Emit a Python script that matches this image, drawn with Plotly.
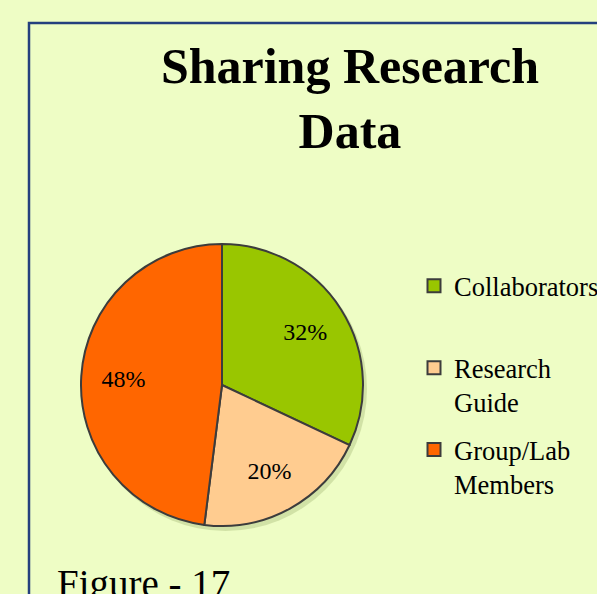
import plotly.graph_objects as go

# ---- data ----
categories = ["Collaborators", "Research Guide", "Group/Lab Members"]
legend_labels = ["Collaborators<br> ", "Research<br>Guide", "Group/Lab<br>Members"]
shares = [32, 20, 48]
colors = ["#99C600", "#FFCC90", "#FF6600"]
title_text = "Sharing Research<br>Data"
caption = "Figure - 17"

W, H = 597, 594
BG = "#EEFDC5"
SERIF = "Liberation Serif"

def px_x(x):
    return x / W

def px_y(y):
    return 1 - y / H

# pie geometry (pixels)
cx, cy, r = 222, 385, 141
pie_domain = dict(x=[px_x(cx - r), px_x(cx + r)], y=[px_y(cy + r), px_y(cy - r)])

fig = go.Figure()

# visible pie
fig.add_trace(go.Pie(
    labels=categories,
    values=shares,
    sort=False,
    direction="clockwise",
    rotation=0,
    marker=dict(colors=colors, line=dict(color="#3C3C3C", width=2)),
    textinfo="none",
    showlegend=False,
    hoverinfo="label+percent",
    domain=pie_domain,
))

# transparent overlay that only carries the percentage labels (placed at ~0.7 r)
fig.add_trace(go.Pie(
    labels=categories,
    values=shares,
    sort=False,
    direction="clockwise",
    rotation=0,
    hole=0.4,
    marker=dict(colors=["rgba(0,0,0,0)"] * len(shares), line=dict(width=0)),
    textinfo="percent",
    textposition="inside",
    insidetextorientation="horizontal",
    textfont=dict(family=SERIF, size=24, color="#000000"),
    showlegend=False,
    hoverinfo="skip",
    domain=pie_domain,
))

# legend entries (one per category)
for i, (lab, col) in enumerate(zip(legend_labels, colors)):
    fig.add_trace(go.Scatter(
        x=[None], y=[None], mode="markers", name=lab,
        legendgroup=f"g{i}",
        marker=dict(symbol="square", size=13, color=col,
                    line=dict(color="#3C3C3C", width=2)),
        hoverinfo="skip",
    ))

shapes = [
    # pie shadow
    dict(type="circle", xref="paper", yref="paper", layer="below",
         x0=px_x(cx - r + 3), x1=px_x(cx + r + 4),
         y0=px_y(cy + r + 5), y1=px_y(cy - r + 3),
         fillcolor="rgba(110,130,60,0.22)", line=dict(width=0)),
    # outer border
    dict(type="rect", xref="paper", yref="paper", layer="below",
         x0=px_x(29), x1=1.2, y0=-0.2, y1=px_y(23),
         line=dict(color="#24407E", width=2.5), fillcolor="rgba(0,0,0,0)"),
]

annotations = [
    dict(text=caption, xref="paper", yref="paper", x=px_x(55), y=px_y(560),
         xanchor="left", yanchor="top", showarrow=False,
         font=dict(family=SERIF, size=39, color="#000000")),
]

fig.update_layout(
    width=W, height=H,
    margin=dict(l=0, r=0, t=0, b=0, autoexpand=False),
    paper_bgcolor=BG, plot_bgcolor=BG,
    title=dict(text=title_text, x=px_x(350), xanchor="center",
               y=px_y(83), yanchor="top", yref="container",
               font=dict(family=SERIF, size=50, color="#000000", weight="bold")),
    xaxis=dict(visible=False), yaxis=dict(visible=False),
    showlegend=True,
    legend=dict(x=px_x(414), y=px_y(262), xanchor="left", yanchor="top",
                bgcolor="rgba(0,0,0,0)", borderwidth=0,
                valign="top", tracegroupgap=10, itemclick=False,
                font=dict(family=SERIF, size=26.5, color="#000000")),
    shapes=shapes,
    annotations=annotations,
)

fig.write_html(
    "out.html",
    config={"displayModeBar": False},
    post_script="document.body.style.margin='0';document.body.style.background='" + BG + "';",
)
